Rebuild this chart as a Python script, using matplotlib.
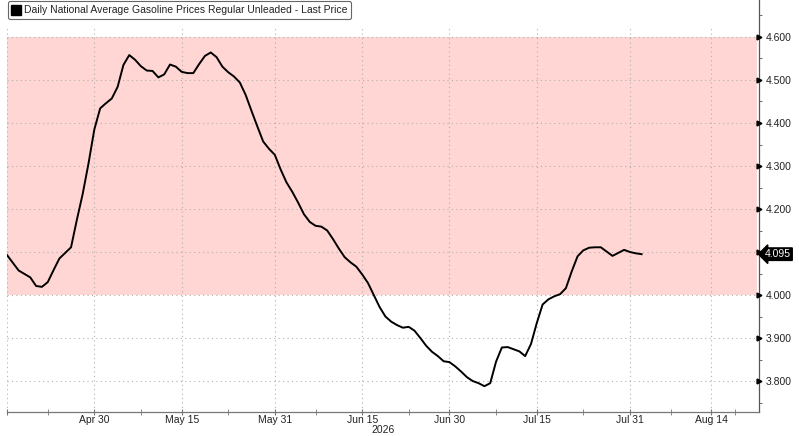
import matplotlib
matplotlib.use("Agg")
import matplotlib.pyplot as plt
import matplotlib.transforms as mtransforms
from matplotlib.lines import Line2D
import pandas as pd

plt.rcParams['font.family'] = ['Liberation Sans', 'DejaVu Sans']

# daily national average gasoline price, regular unleaded
start_date = "2026-04-15"
prices = [
    4.093, 4.075, 4.057, 4.049, 4.041, 4.021, 4.019, 4.030, 4.058, 4.085,
    4.098, 4.111, 4.175, 4.235, 4.306, 4.385, 4.434, 4.446, 4.457, 4.484,
    4.535, 4.558, 4.547, 4.532, 4.522, 4.521, 4.506, 4.513, 4.536, 4.531,
    4.519, 4.516, 4.516, 4.537, 4.556, 4.564, 4.553, 4.531, 4.518, 4.508,
    4.494, 4.465, 4.428, 4.392, 4.357, 4.340, 4.326, 4.292, 4.262, 4.240,
    4.215, 4.188, 4.170, 4.161, 4.159, 4.150, 4.130, 4.108, 4.088, 4.076,
    4.066, 4.048, 4.028, 4.000, 3.972, 3.950, 3.938, 3.930, 3.924, 3.926,
    3.917, 3.900, 3.882, 3.868, 3.858, 3.846, 3.844, 3.834, 3.822, 3.809,
    3.800, 3.795, 3.788, 3.795, 3.845, 3.878, 3.879, 3.874, 3.869, 3.858,
    3.886, 3.935, 3.978, 3.990, 3.997, 4.002, 4.016, 4.055, 4.090, 4.104,
    4.110, 4.111, 4.111, 4.101, 4.091, 4.098, 4.105, 4.100, 4.097, 4.095,
]
last_price = 4.095

band_low, band_high = 4.0, 4.6

major_dates = ["2026-04-15", "2026-04-30", "2026-05-15", "2026-05-31", "2026-06-15",
               "2026-06-30", "2026-07-15", "2026-07-31", "2026-08-14"]
major_labels = ["", "Apr 30", "May 15", "May 31", "Jun 15",
                "Jun 30", "Jul 15", "Jul 31", "Aug 14"]
minor_dates = ["2026-04-22", "2026-05-08", "2026-05-23", "2026-06-07", "2026-06-23",
               "2026-07-08", "2026-07-23", "2026-08-07", "2026-08-18"]
y_major = [3.8, 3.9, 4.0, 4.1, 4.2, 4.3, 4.4, 4.5, 4.6]
y_minor = [3.75, 3.85, 3.95, 4.05, 4.15, 4.25, 4.35, 4.45, 4.55, 4.65]

legend_label = "Daily National Average Gasoline Prices Regular Unleaded - Last Price"

dates = pd.date_range(start_date, periods=len(prices), freq="D")
major = pd.to_datetime(major_dates)
minor = pd.to_datetime(minor_dates)

txt = "#222222"
fs = 7.5

fig = plt.figure(figsize=(7.99, 4.36), dpi=100)
ax = fig.add_axes([7 / 799, 24 / 436, 752 / 799, 412 / 436])

ax.set_xlim(pd.Timestamp("2026-04-15"), pd.Timestamp("2026-08-22 04:00"))
ax.set_ylim(3.728, 4.686)

# red shaded band
ax.axhspan(band_low, band_high, xmin=0, xmax=0.997, color="#ffd6d3", lw=0, zorder=0)

# grid
for d in major:
    ax.axvline(d, ymax=0.934, color="#b0b0b0", lw=0.8, ls=(0, (1, 3)), zorder=1)
for v in y_major:
    ax.axhline(v, color="#b0b0b0", lw=0.8, ls=(0, (1, 3)), zorder=1)

ax.plot(dates, prices, color="black", lw=1.4, zorder=3)

# spines
for s in ["top", "left"]:
    ax.spines[s].set_visible(False)
ax.spines["right"].set_color("#555555")
ax.spines["bottom"].set_color("#777777")
ax.spines["right"].set_linewidth(0.9)
ax.spines["bottom"].set_linewidth(0.9)

# x axis
ax.set_xticks(major)
ax.set_xticklabels(major_labels)
ax.set_xticks(minor, minor=True)
ax.tick_params(axis="x", which="both", direction="inout", length=4, color="#777777",
               labelsize=fs, labelcolor=txt, pad=0)

# y axis on the right
ax.yaxis.tick_right()
ax.set_yticks(y_major)
ax.set_yticklabels([f"{v:.3f}" for v in y_major])
ax.set_yticks(y_minor, minor=True)
ax.tick_params(axis="y", which="major", length=0, pad=5, labelsize=fs, labelcolor=txt)
ax.tick_params(axis="y", which="minor", direction="out", length=2.5, color="#555555")

trans = mtransforms.blended_transform_factory(ax.transAxes, ax.transData)
ax.plot([1.0] * len(y_major), y_major, ls="none", marker=">", ms=3.5, color="black",
        transform=trans, clip_on=False, zorder=5)

# last price tag
ax.text(1.0, last_price, f"{last_price:.3f}",
        transform=trans + mtransforms.ScaledTranslation(6 / 100, 0, fig.dpi_scale_trans),
        ha="left", va="center", fontsize=fs, color="white", zorder=6,
        bbox=dict(boxstyle="larrow,pad=0.12", fc="black", ec="black"))

fig.text(383 / 799, 1 - 430 / 436, "2026", ha="center", va="center", fontsize=fs, color=txt)

handle = Line2D([], [], ls="none", marker="s", ms=7.5, color="black")
leg = fig.legend([handle], [legend_label], loc="upper left",
                 bbox_to_anchor=(8 / 799, 1 - 1 / 436), fontsize=fs, frameon=True,
                 fancybox=True, framealpha=1, edgecolor="#666666",
                 handlelength=0.8, handletextpad=0.3, borderpad=0.4, borderaxespad=0)
leg.get_frame().set_linewidth(0.8)
for t in leg.get_texts():
    t.set_color(txt)

fig.savefig("out.png", dpi=100)
